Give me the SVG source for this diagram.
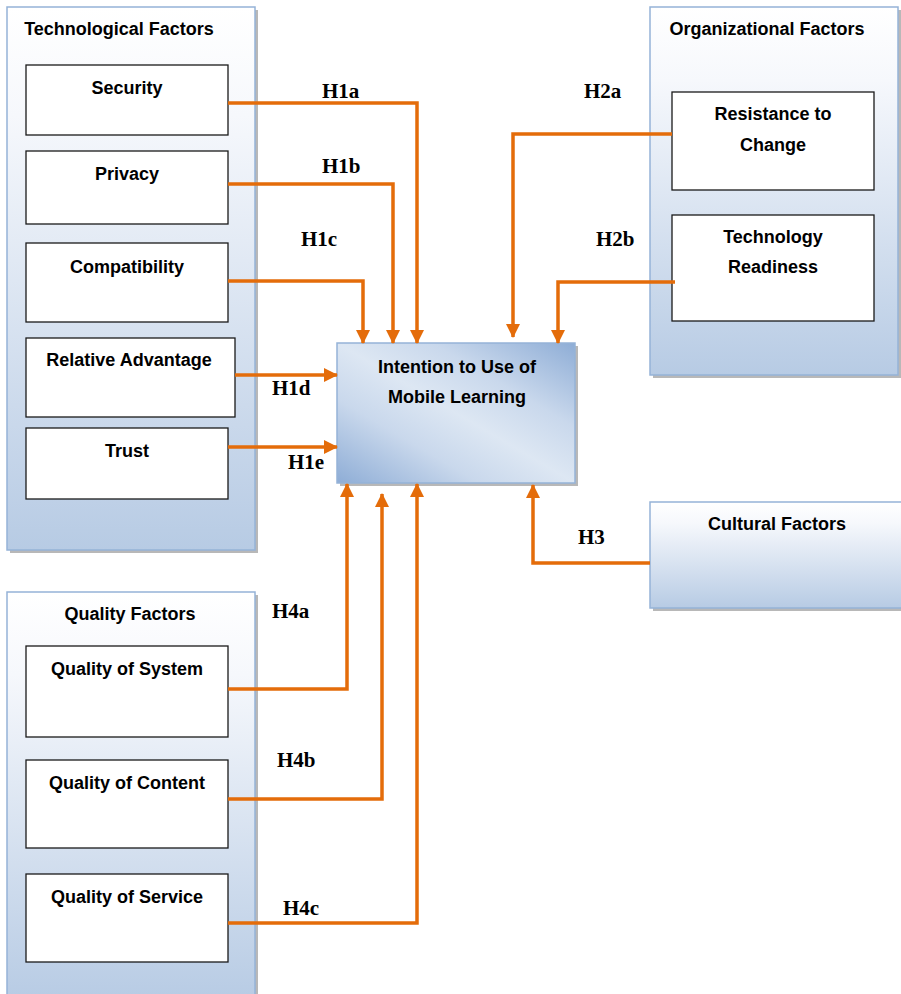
<svg xmlns="http://www.w3.org/2000/svg" width="901" height="994" viewBox="0 0 901 994">
<defs>
<linearGradient id="gCont" x1="0" y1="0" x2="0" y2="1">
<stop offset="0" stop-color="#ffffff"/>
<stop offset="0.2" stop-color="#f6f8fc"/>
<stop offset="1" stop-color="#b7cbe4"/>
</linearGradient>
<linearGradient id="gCenter" x1="1" y1="0" x2="0" y2="1">
<stop offset="0" stop-color="#8eadd6"/>
<stop offset="0.3" stop-color="#c9d8ec"/>
<stop offset="0.5" stop-color="#dde7f3"/>
<stop offset="0.7" stop-color="#c9d8ec"/>
<stop offset="1" stop-color="#8eadd6"/>
</linearGradient>
<marker id="arr" markerUnits="userSpaceOnUse" markerWidth="14" markerHeight="14" viewBox="0 0 14 14" refX="13" refY="7" orient="auto">
<path d="M0,0 L14,7 L0,14 Z" fill="#e46c0a"/>
</marker>
</defs>
<style>
.cont{fill:url(#gCont);stroke:#95b3d7;stroke-width:1.5}
.shadow{fill:#9a9a9a;opacity:0.7}
.box{fill:#ffffff;stroke:#1a1a1a;stroke-width:1.3}
.t{font-family:"Liberation Sans",Arial,sans-serif;font-weight:bold;font-size:18px;fill:#000;text-anchor:middle}
.h{font-family:"Liberation Serif","Times New Roman",serif;font-weight:bold;font-size:21px;fill:#000}
.c{fill:none;stroke:#e46c0a;stroke-width:3.5;stroke-linejoin:miter;marker-end:url(#arr)}
</style>

<g id="tech-factors">
<rect class="shadow" x="10" y="10" width="248" height="543"/>
<rect class="cont" x="7" y="7" width="248" height="543"/>
<text class="t" x="119" y="35">Technological Factors</text>
</g>
<g id="security"><rect class="box" x="26" y="65" width="202" height="70"/><text class="t" x="127" y="94">Security</text></g>
<g id="privacy"><rect class="box" x="26" y="151" width="202" height="73"/><text class="t" x="127" y="180">Privacy</text></g>
<g id="compatibility"><rect class="box" x="26" y="243" width="202" height="79"/><text class="t" x="127" y="273">Compatibility</text></g>
<g id="relative-advantage"><rect class="box" x="26" y="338" width="209" height="79"/><text class="t" x="129" y="366">Relative Advantage</text></g>
<g id="trust"><rect class="box" x="26" y="428" width="202" height="71"/><text class="t" x="127" y="457">Trust</text></g>

<g id="org-factors">
<rect class="shadow" x="653" y="10" width="248" height="368"/>
<rect class="cont" x="650" y="7" width="248" height="368"/>
<text class="t" x="767" y="35">Organizational Factors</text>
</g>
<g id="resistance"><rect class="box" x="672" y="92" width="202" height="98"/><text class="t" x="773" y="120">Resistance to</text><text class="t" x="773" y="151">Change</text></g>
<g id="readiness"><rect class="box" x="672" y="215" width="202" height="106"/><text class="t" x="773" y="243">Technology</text><text class="t" x="773" y="273">Readiness</text></g>

<g id="cultural-factors">
<rect class="shadow" x="653" y="505" width="251" height="106"/>
<rect class="cont" x="650" y="502" width="253" height="106"/>
<text class="t" x="777" y="530">Cultural Factors</text>
</g>

<g id="quality-factors">
<rect class="shadow" x="10" y="595" width="248" height="410"/>
<rect class="cont" x="7" y="592" width="248" height="410"/>
<text class="t" x="130" y="620">Quality Factors</text>
</g>
<g id="q-system"><rect class="box" x="26" y="646" width="202" height="91"/><text class="t" x="127" y="675">Quality of System</text></g>
<g id="q-content"><rect class="box" x="26" y="760" width="202" height="88"/><text class="t" x="127" y="789">Quality of Content</text></g>
<g id="q-service"><rect class="box" x="26" y="874" width="202" height="88"/><text class="t" x="127" y="903">Quality of Service</text></g>

<g id="intention">
<rect class="shadow" x="340" y="346" width="238" height="140"/>
<rect x="337" y="343" width="238" height="140" fill="url(#gCenter)" stroke="#95b3d7" stroke-width="1.5"/>
<text class="t" x="457" y="373">Intention to Use of</text>
<text class="t" x="457" y="403">Mobile Learning</text>
</g>

<g id="connectors">
<path class="c" d="M228,103 H417 V343"/>
<path class="c" d="M228,184 H393 V343"/>
<path class="c" d="M228,281 H363 V343"/>
<path class="c" d="M235,375 H337"/>
<path class="c" d="M228,447 H337"/>
<path class="c" d="M672,134 H513 V337"/>
<path class="c" d="M675,282 H558 V343"/>
<path class="c" d="M650,563 H533 V485"/>
<path class="c" d="M228,689 H347 V484"/>
<path class="c" d="M228,799 H382 V494"/>
<path class="c" d="M228,923 H417 V484"/>
<text class="h" x="322" y="98">H1a</text>
<text class="h" x="322" y="173">H1b</text>
<text class="h" x="301" y="246">H1c</text>
<text class="h" x="272" y="395">H1d</text>
<text class="h" x="288" y="469">H1e</text>
<text class="h" x="584" y="98">H2a</text>
<text class="h" x="596" y="246">H2b</text>
<text class="h" x="578" y="544">H3</text>
<text class="h" x="272" y="618">H4a</text>
<text class="h" x="277" y="767">H4b</text>
<text class="h" x="283" y="915">H4c</text>
</g>
</svg>
